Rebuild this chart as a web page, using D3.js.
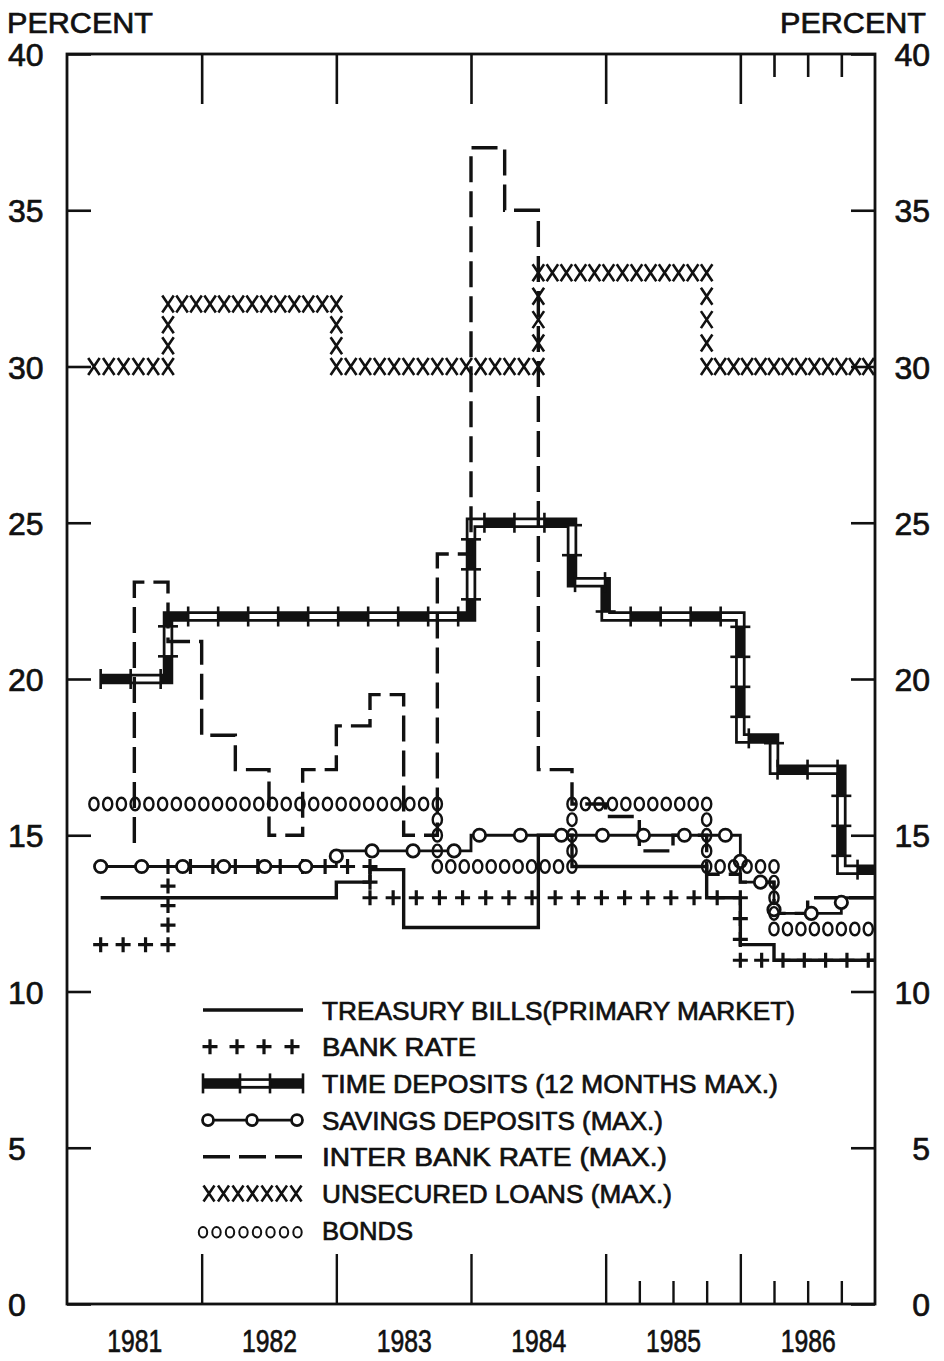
<!DOCTYPE html>
<html><head><meta charset="utf-8">
<script src="https://cdn.jsdelivr.net/npm/d3@7"></script>
<style>body{margin:0;background:#fff} svg{display:block}</style>
</head><body>
<svg id="chart" width="944" height="1361"></svg>
<script>
// ---------- data ----------
const years = [1981, 1982, 1983, 1984, 1985, 1986];
const yTickValues = [0, 5, 10, 15, 20, 25, 30, 35, 40];
const majorXTicks = [1982, 1983, 1984, 1985, 1986];
const minorTopTicks = [1986.25, 1986.5, 1986.75];
const minorBottomTicks = [1985.25, 1985.5, 1985.75, 1986.25, 1986.5, 1986.75];

// step series: [time, value]; value holds until the next time, last entry marks the end
const treasuryBills = [[1981.25,13.0],[1983.0,13.5],[1983.25,13.9],[1983.5,12.05],[1984.5,15.0],[1984.75,14.0],[1985.75,13.0],[1986.0,11.5],[1986.25,11.0],[1987.0,11.0]];
const bankRate = [[1981.25,11.5],[1981.75,14.0],[1983.25,13.0],[1986.0,11.0],[1986.95,11.0]];
const timeDeposits = [[1981.25,20.0],[1981.75,22.0],[1984.0,25.0],[1984.75,23.1],[1985.0,22.0],[1986.0,18.1],[1986.25,17.1],[1986.75,13.9],[1987.0,13.9]];
const savingsDeposits = [[1981.25,14.0],[1983.0,14.5],[1984.0,15.0],[1986.0,13.5],[1986.25,12.5],[1986.75,13.0],[1987.0,13.0]];
const interBankRate = [[1981.5,14.75],[1981.5,23.1],[1981.75,21.2],[1982.0,18.2],[1982.25,17.1],[1982.5,15.0],[1982.75,17.1],[1983.0,18.5],[1983.25,19.5],[1983.5,15.0],[1983.75,24.0],[1984.0,37.0],[1984.25,35.0],[1984.5,17.1],[1984.75,16.0],[1985.0,15.6],[1985.25,14.5],[1985.5,15.0],[1985.75,13.75],[1986.0,13.5],[1986.25,12.5],[1986.5,13.0],[1987.0,13.0]];
const unsecuredLoans = [[1981.2,30],[1981.75,32],[1983.0,30],[1984.5,33],[1985.75,30],[1986.95,30]];
const bonds = [[1981.2,16.0],[1983.75,14.0],[1984.75,16.0],[1985.75,14.0],[1986.25,12.0],[1986.95,12.0]];

const legendLabels = ["TREASURY BILLS(PRIMARY MARKET)","BANK RATE","TIME DEPOSITS (12 MONTHS MAX.)","SAVINGS DEPOSITS (MAX.)","INTER BANK RATE (MAX.)","UNSECURED LOANS (MAX.)","BONDS"];
const legendTextWidths = [473,154,456,341,345,350,91];

// ---------- setup ----------
const svg = d3.select("#chart");
const FONT = "'Liberation Sans', Arial, sans-serif";
const x = d3.scaleLinear().domain([1981, 1987]).range([67, 875]);
const y = d3.scaleLinear().domain([0, 40]).range([1304, 54]);
const INK = "#111";
const TEXT_STROKE = 0.7;

// frame
svg.append("rect").attr("x", x(1981)).attr("y", y(40))
  .attr("width", x(1987) - x(1981)).attr("height", y(0) - y(40))
  .attr("fill", "none").attr("stroke", INK).attr("stroke-width", 2.8);

function styleAxis(g, w) {
  g.select(".domain").remove();
  g.selectAll("line").attr("stroke", INK).attr("stroke-width", w);
  g.attr("font-family", FONT);
}
function boldText(sel) { return sel.attr("stroke", INK).attr("stroke-width", TEXT_STROKE).attr("fill", INK); }

// left axis
const gl = svg.append("g").attr("transform", `translate(${x(1981)},0)`)
  .call(d3.axisLeft(y).tickValues(yTickValues).tickSize(-24).tickPadding(0).tickFormat(d3.format("d")));
styleAxis(gl, 2.6);
boldText(gl.selectAll("text").attr("x", 8 - x(1981)).attr("text-anchor", "start").attr("dy", "0.36em")
  .attr("font-size", 32));
// right axis
const gr = svg.append("g").attr("transform", `translate(${x(1987)},0)`)
  .call(d3.axisRight(y).tickValues(yTickValues).tickSize(-24).tickPadding(0).tickFormat(d3.format("d")));
styleAxis(gr, 2.6);
boldText(gr.selectAll("text").attr("x", 930 - x(1987)).attr("text-anchor", "end").attr("dy", "0.36em")
  .attr("font-size", 32));
// top ticks
const gt = svg.append("g").attr("transform", `translate(0,${y(40)})`)
  .call(d3.axisTop(x).tickValues(majorXTicks).tickSize(-50).tickFormat(""));
styleAxis(gt, 2.6);
const gt2 = svg.append("g").attr("transform", `translate(0,${y(40)})`)
  .call(d3.axisTop(x).tickValues(minorTopTicks).tickSize(-23).tickFormat(""));
styleAxis(gt2, 2.6);
// bottom ticks
const gb = svg.append("g").attr("transform", `translate(0,${y(0)})`)
  .call(d3.axisBottom(x).tickValues(majorXTicks).tickSize(-50).tickFormat(""));
styleAxis(gb, 2.4);
const gb2 = svg.append("g").attr("transform", `translate(0,${y(0)})`)
  .call(d3.axisBottom(x).tickValues(minorBottomTicks).tickSize(-23).tickFormat(""));
styleAxis(gb2, 2.4);
// year labels
const gy = svg.append("g").attr("transform", `translate(0,${y(0)})`)
  .call(d3.axisBottom(x).tickValues(years.map(d => d + 0.5)).tickSize(0).tickFormat(d => String(Math.floor(d))));
styleAxis(gy, 0);
boldText(gy.selectAll("text").attr("y", 48).attr("dy", 0).attr("font-size", 32)
  .attr("textLength", 55).attr("lengthAdjust", "spacingAndGlyphs"));

// PERCENT labels
boldText(svg.append("text").attr("x", 7).attr("y", 33).attr("font-family", FONT).attr("font-size", 29)
  .attr("textLength", 146).attr("lengthAdjust", "spacingAndGlyphs").text("PERCENT"));
boldText(svg.append("text").attr("x", 780).attr("y", 33).attr("font-family", FONT).attr("font-size", 29)
  .attr("textLength", 146).attr("lengthAdjust", "spacingAndGlyphs").text("PERCENT"));

// ---------- helpers ----------
const stepLine = d3.line().x(d => x(d[0])).y(d => y(d[1])).curve(d3.curveStepAfter);

function polyFromStep(series) {
  const pts = [];
  for (let i = 0; i < series.length - 1; i++) {
    pts.push([x(series[i][0]), y(series[i][1])]);
    pts.push([x(series[i + 1][0]), y(series[i][1])]);
  }
  return pts;
}
function stepGlyphs(series, sh, sv) {
  const pts = polyFromStep(series), out = [];
  for (let i = 0; i < pts.length - 1; i++) {
    const [x1, y1] = pts[i], [x2, y2] = pts[i + 1];
    if (Math.abs(y2 - y1) < 0.01) {
      const L = x2 - x1; if (Math.abs(L) < 0.01) continue;
      const n = Math.max(1, Math.round(Math.abs(L) / sh));
      for (let k = 0; k <= n; k++) out.push([x1 + L * k / n, y1]);
    } else {
      const L = y2 - y1, n = Math.round(Math.abs(L) / sv);
      for (let k = 1; k < n; k++) out.push([x1, y1 + L * k / n]);
    }
  }
  return out;
}
function alongPath(pts, spacing) {
  const out = []; let acc = 0, next = 0;
  for (let i = 0; i < pts.length - 1; i++) {
    const [x1, y1] = pts[i], [x2, y2] = pts[i + 1];
    const L = Math.hypot(x2 - x1, y2 - y1); if (L < 0.01) continue;
    const ux = (x2 - x1) / L, uy = (y2 - y1) / L;
    while (next <= acc + L + 1e-6) { const d = next - acc; out.push({x: x1 + ux * d, y: y1 + uy * d, ux, uy}); next += spacing; }
    acc += L;
  }
  return out;
}
function plus(g, cx, cy, s) {
  g.append("path").attr("d", `M${cx - s},${cy}H${cx + s}M${cx},${cy - s}V${cy + s}`)
    .attr("stroke", INK).attr("stroke-width", 3.2).attr("fill", "none");
}
function cross(g, cx, cy, w, h) {
  g.append("path").attr("d", `M${cx - w / 2},${cy - h / 2}L${cx + w / 2},${cy + h / 2}M${cx + w / 2},${cy - h / 2}L${cx - w / 2},${cy + h / 2}`)
    .attr("stroke", INK).attr("stroke-width", 2.6).attr("fill", "none");
}

const plot = svg.append("g");

// ---------- TIME DEPOSITS band ----------
const tdG = plot.append("g");
tdG.append("path").attr("d", stepLine(timeDeposits)).attr("fill", "none").attr("stroke", INK)
  .attr("stroke-width", 10.5).attr("stroke-linejoin", "miter");
tdG.append("path").attr("d", stepLine(timeDeposits)).attr("fill", "none").attr("stroke", "#fff")
  .attr("stroke-width", 5).attr("stroke-linejoin", "miter")
  .attr("stroke-dasharray", "30 30").attr("stroke-dashoffset", 30);
alongPath(polyFromStep(timeDeposits), 30).forEach(p => {
  const nx = -p.uy, ny = p.ux, h = 10;
  tdG.append("line").attr("x1", p.x - nx * h).attr("y1", p.y - ny * h)
    .attr("x2", p.x + nx * h).attr("y2", p.y + ny * h).attr("stroke", INK).attr("stroke-width", 2.6);
});

// ---------- INTER BANK RATE ----------
plot.append("path").attr("d", stepLine(interBankRate)).attr("fill", "none").attr("stroke", INK)
  .attr("stroke-width", 3.4).attr("stroke-dasharray", "26 9");

// ---------- TREASURY BILLS ----------
plot.append("path").attr("d", stepLine(treasuryBills)).attr("fill", "none").attr("stroke", INK)
  .attr("stroke-width", 3.4);

// ---------- SAVINGS DEPOSITS line ----------
plot.append("path").attr("d", stepLine(savingsDeposits)).attr("fill", "none").attr("stroke", INK)
  .attr("stroke-width", 2.8);

// ---------- BANK RATE ----------
const brG = plot.append("g");
stepGlyphs(bankRate, 23, 19).forEach(([px, py]) => plus(brG, px, py, 7.5));

// ---------- SAVINGS DEPOSITS circles ----------
alongPath(polyFromStep(savingsDeposits), 41).forEach(p => {
  plot.append("circle").attr("cx", p.x).attr("cy", p.y).attr("r", 6.2)
    .attr("fill", "#fff").attr("stroke", INK).attr("stroke-width", 2.8);
});

// ---------- BONDS ----------
stepGlyphs(bonds, 13.5, 16).forEach(([px, py]) => {
  plot.append("ellipse").attr("cx", px).attr("cy", py).attr("rx", 4.6).attr("ry", 6.3)
    .attr("fill", "none").attr("stroke", INK).attr("stroke-width", 2.4);
});

// ---------- UNSECURED LOANS ----------
const ulG = plot.append("g");
stepGlyphs(unsecuredLoans, 14, 22).forEach(([px, py]) => cross(ulG, px, py, 11.5, 17));

// ---------- LEGEND ----------
const lg = svg.append("g");
const lx0 = 203, lx1 = 303, rowY = i => 1010 + i * 36.7;
legendLabels.forEach((t, i) => {
  boldText(lg.append("text").attr("x", 322).attr("y", rowY(i) + 9.5).attr("font-family", FONT)
    .attr("font-size", 26).attr("textLength", legendTextWidths[i])
    .attr("lengthAdjust", "spacingAndGlyphs").text(t));
});
// treasury bills
lg.append("line").attr("x1", lx0).attr("x2", lx1).attr("y1", rowY(0)).attr("y2", rowY(0))
  .attr("stroke", INK).attr("stroke-width", 3.4);
// bank rate
[210, 237, 264, 292].forEach(px => plus(lg, px, rowY(1), 7.5));
// time deposits
lg.append("line").attr("x1", lx0).attr("x2", lx1).attr("y1", rowY(2)).attr("y2", rowY(2))
  .attr("stroke", INK).attr("stroke-width", 10.5);
lg.append("line").attr("x1", 240).attr("x2", 270).attr("y1", rowY(2)).attr("y2", rowY(2))
  .attr("stroke", "#fff").attr("stroke-width", 5);
[lx0, 240, 270, lx1].forEach(px => lg.append("line").attr("x1", px).attr("x2", px)
  .attr("y1", rowY(2) - 10).attr("y2", rowY(2) + 10).attr("stroke", INK).attr("stroke-width", 2.6));
// savings deposits
lg.append("line").attr("x1", lx0).attr("x2", lx1).attr("y1", rowY(3)).attr("y2", rowY(3))
  .attr("stroke", INK).attr("stroke-width", 2.8);
[208, 252, 297].forEach(px => lg.append("circle").attr("cx", px).attr("cy", rowY(3)).attr("r", 5.5)
  .attr("fill", "#fff").attr("stroke", INK).attr("stroke-width", 2.8));
// inter bank
lg.append("line").attr("x1", lx0).attr("x2", lx1).attr("y1", rowY(4)).attr("y2", rowY(4))
  .attr("stroke", INK).attr("stroke-width", 3.4).attr("stroke-dasharray", "27 9");
// unsecured
d3.range(7).forEach(k => cross(lg, 209 + k * 14.5, rowY(5), 11, 16));
// bonds
d3.range(8).forEach(k => lg.append("ellipse").attr("cx", 203 + k * 13.5).attr("cy", rowY(6) + 2)
  .attr("rx", 4.2).attr("ry", 5.2).attr("fill", "none").attr("stroke", INK).attr("stroke-width", 2));
</script>
</body></html>
